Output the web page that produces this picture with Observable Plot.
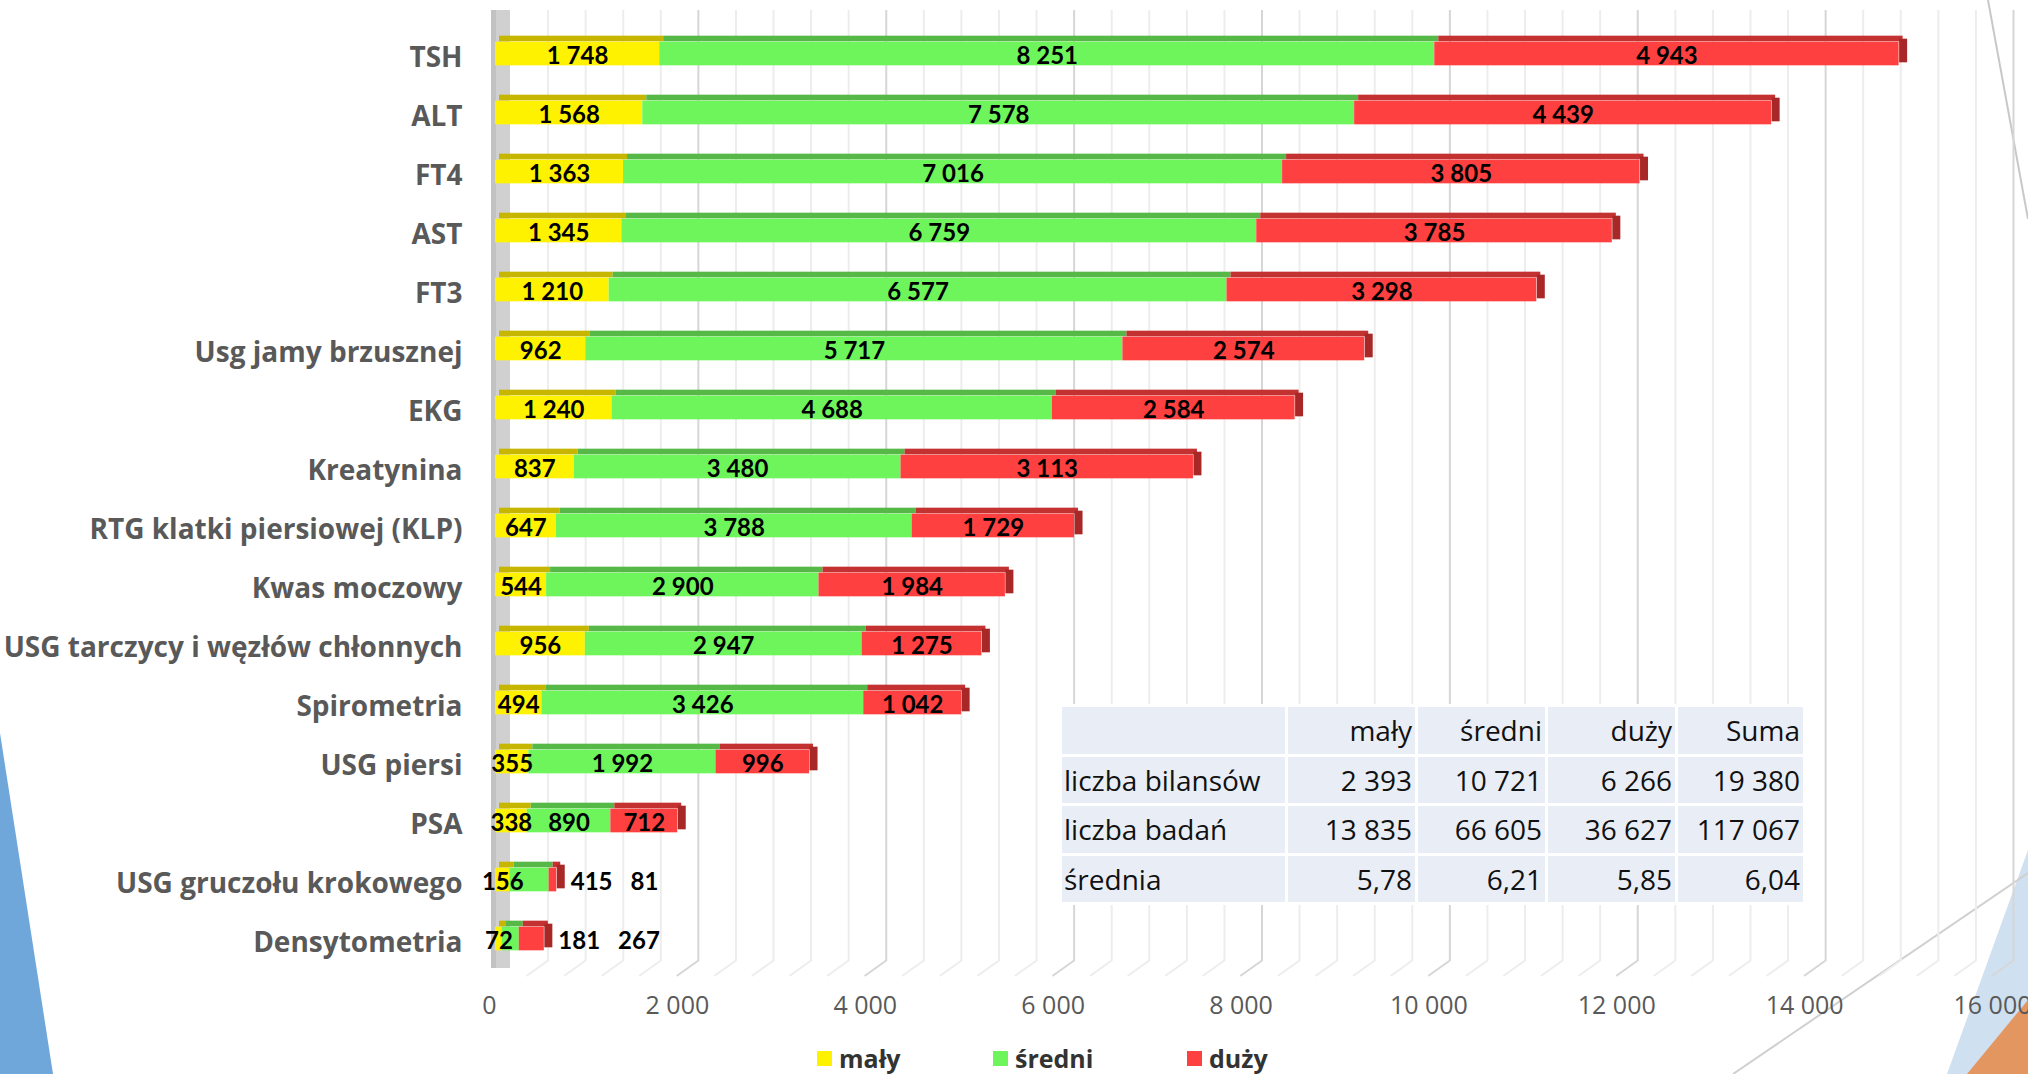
<!DOCTYPE html>
<html>
<head>
<meta charset="utf-8">
<script src="https://cdn.jsdelivr.net/npm/d3@7"></script>
<script src="https://cdn.jsdelivr.net/npm/@observablehq/plot@0.6"></script>
<style>
  html, body { margin: 0; padding: 0; background: #ffffff; }
  body { width: 2028px; height: 1074px; overflow: hidden; font-family: "Open Sans", Lato, sans-serif; }
  #wrap { position: relative; width: 2028px; height: 1074px; }
  #deco { position: absolute; left: 0; top: 0; }
  #chart { position: absolute; left: 0; top: 0; }
  #legend { position: absolute; left: 0; top: 1035px; width: 2028px; height: 46px; }
  .li { position: absolute; top: 0; height: 46px; display: flex; align-items: center; font-weight: 700; font-size: 25px; color: #333; font-family: "Open Sans", sans-serif; }
  .sw { width: 15px; height: 15px; margin-right: 7px; }
  #tbl { position: absolute; left: 1059px; top: 704px; border-collapse: separate; border-spacing: 3px; background: #fff; font-size: 28px; color: #111; font-family: "Open Sans", sans-serif; }
  #tbl td { background: #e9eef6; height: 46.5px; padding: 0 3px 0 2px; text-align: right; white-space: nowrap; box-sizing: border-box; }
  #tbl td:first-child { text-align: left; }
</style>
</head>
<body>
<div id="wrap">
  <svg id="deco" width="2028" height="1074">
    <polygon points="0,733 53,1074 0,1074" fill="#70a7db"/>
    <polygon points="2028,850 1947,1074 2028,1074" fill="#cfe0f1"/>
    <polygon points="2028,1000 1967,1074 2028,1074" fill="#e3965f"/>
    <line x1="1733" y1="1074" x2="2028" y2="873" stroke="#d0d0d0" stroke-width="2"/>
    <line x1="1988" y1="0" x2="2028" y2="219" stroke="#c8c8c8" stroke-width="2"/>
  </svg>
  <div id="chart"></div>
  <div id="legend"></div>
</div>
<script>
// ---- data ----
const categories = [
  "TSH", "ALT", "FT4", "AST", "FT3", "Usg jamy brzusznej", "EKG", "Kreatynina",
  "RTG klatki piersiowej (KLP)", "Kwas moczowy", "USG tarczycy i węzłów chłonnych",
  "Spirometria", "USG piersi", "PSA", "USG gruczołu krokowego", "Densytometria"
];
const maly   = [1748, 1568, 1363, 1345, 1210, 962, 1240, 837, 647, 544, 956, 494, 355, 338, 156, 72];
const sredni = [8251, 7578, 7016, 6759, 6577, 5717, 4688, 3480, 3788, 2900, 2947, 3426, 1992, 890, 415, 181];
const duzy   = [4943, 4439, 3805, 3785, 3298, 2574, 2584, 3113, 1729, 1984, 1275, 1042, 996, 712, 81, 267];
const seriesNames = ["mały", "średni", "duży"];
const frontColors = ["#fff200", "#6ef55c", "#ff4040"];
const topColors   = ["#c6b600", "#55b847", "#c33131"];
const sideColor   = "#a82828";
const xTicks = [0, 2000, 4000, 6000, 8000, 10000, 12000, 14000, 16000];

const tableHeader = ["", "mały", "średni", "duży", "Suma"];
const tableRowLabels = ["liczba bilansów", "liczba badań", "średnia"];
const tableBilanse = ["2 393", "10 721", "6 266", "19 380"];
const tableBadania = ["13 835", "66 605", "36 627", "117 067"];
const tableSrednia = ["5,78", "6,21", "5,85", "6,04"];

// ---- build ----
const fmt = v => d3.format(",")(v).replace(/,/g, " ");
const seriesValues = [maly, sredni, duzy];
const rows = [];
const totals = [];
categories.forEach((c, i) => {
  let acc = 0;
  seriesValues.forEach((arr, j) => {
    const v = arr[i];
    rows.push({cat: c, s: j, x1: acc, x2: acc + v, v});
    acc += v;
  });
  totals.push({cat: c, total: acc, g: sredni[i], r: duzy[i]});
});
const NARROW = 1000; // bars too short to hold their own labels
const insideLabels = rows.filter(d => d.s === 0 || totals[categories.indexOf(d.cat)].total >= NARROW);
const outsideLabels = totals.filter(d => d.total < NARROW);

const minorTicks = d3.range(400, 16001, 400).filter(v => v % 2000 !== 0);
const majorTicks = xTicks.filter(v => v > 0);

const bandHalf = 29.67;
const lineShape = {draw(context, l) { context.moveTo(0, 0); context.lineTo(0, -l); }};

const plot = Plot.plot({
  width: 2028,
  height: 1035,
  marginLeft: 489,
  marginRight: 36,
  marginTop: 10,
  marginBottom: 75,
  style: {fontFamily: "Lato, 'Open Sans', sans-serif", background: "transparent", overflow: "visible"},
  x: {domain: [0, 16000], axis: null},
  y: {domain: categories, range: [21.33, 970.67], padding: 0, axis: null},
  marks: [
    // back-wall grid
    Plot.ruleX(minorTicks, {dx: 21, stroke: "#ededed", strokeWidth: 2}),
    Plot.ruleX(majorTicks, {dx: 21, stroke: "#d6d6d6", strokeWidth: 2}),
    // floor grid
    Plot.vector(minorTicks, {x: d => d, frameAnchor: "bottom", dx: 21, rotate: 234.5, length: 25.8, anchor: "start", shape: lineShape, stroke: "#ededed", strokeWidth: 2}),
    Plot.vector(majorTicks, {x: d => d, frameAnchor: "bottom", dx: 21, rotate: 234.5, length: 25.8, anchor: "start", shape: lineShape, stroke: "#d6d6d6", strokeWidth: 2}),
    // side wall
    Plot.ruleX([0], {dx: 11, stroke: "#d0d0d0", strokeWidth: 19, insetBottom: -8}),
    Plot.ruleX([0], {dx: 4, stroke: "#c2c2c2", strokeWidth: 5, insetBottom: -8}),
    // bar top faces
    Plot.barX(rows, {x1: "x1", x2: "x2", y: "cat", fill: d => topColors[d.s], dx: 10, insetTop: bandHalf - 18, insetBottom: bandHalf + 12}),
    // bar front faces
    Plot.barX(rows, {x1: "x1", x2: "x2", y: "cat", fill: d => frontColors[d.s], dx: 6, insetTop: bandHalf - 12, insetBottom: bandHalf - 12}),
    // bar right side faces
    Plot.tickX(totals, {x: "total", y: "cat", stroke: sideColor, strokeWidth: 8, dx: 10, insetTop: bandHalf - 15, insetBottom: bandHalf - 9}),
    // value labels
    Plot.text(insideLabels, {x: d => (d.x1 + d.x2) / 2, y: "cat", text: d => fmt(d.v), dx: 6, dy: 2, fontSize: 24, fontWeight: "bold", fill: "#000"}),
    Plot.text(outsideLabels, {x: "total", y: "cat", text: d => fmt(d.g) + "\u2003" + fmt(d.r), textAnchor: "start", dx: 20, dy: 2, fontSize: 24, fontWeight: "bold", fill: "#000"}),
    // axes
    Plot.axisY({tickSize: 0, tickPadding: 27, fontSize: 28, fontWeight: "bold", color: "#595959", dy: 4, label: null, fontFamily: "'Open Sans', sans-serif"}),
    Plot.axisX({ticks: xTicks, tickFormat: fmt, tickSize: 0, tickPadding: 36, fontSize: 25, color: "#595959", label: null, fontFamily: "'Open Sans', sans-serif"})
  ]
});
document.getElementById("chart").appendChild(plot);

// ---- legend ----
const legendLeft = [817, 993, 1187];
const legend = document.getElementById("legend");
seriesNames.forEach((s, j) => {
  const it = document.createElement("div");
  it.className = "li";
  it.style.left = legendLeft[j] + "px";
  const sw = document.createElement("div");
  sw.className = "sw";
  sw.style.background = frontColors[j];
  it.appendChild(sw);
  it.appendChild(document.createTextNode(s));
  legend.appendChild(it);
});

// ---- data table ----
const tbl = document.createElement("table");
tbl.id = "tbl";
const colW = [223, 127, 127, 127, 125];
const addRow = (cells) => {
  const tr = document.createElement("tr");
  cells.forEach((c, k) => {
    const td = document.createElement("td");
    td.textContent = c;
    td.style.width = colW[k] + "px";
    tr.appendChild(td);
  });
  tbl.appendChild(tr);
};
addRow(tableHeader);
addRow([tableRowLabels[0], ...tableBilanse]);
addRow([tableRowLabels[1], ...tableBadania]);
addRow([tableRowLabels[2], ...tableSrednia]);
document.getElementById("wrap").appendChild(tbl);
</script>
</body>
</html>
